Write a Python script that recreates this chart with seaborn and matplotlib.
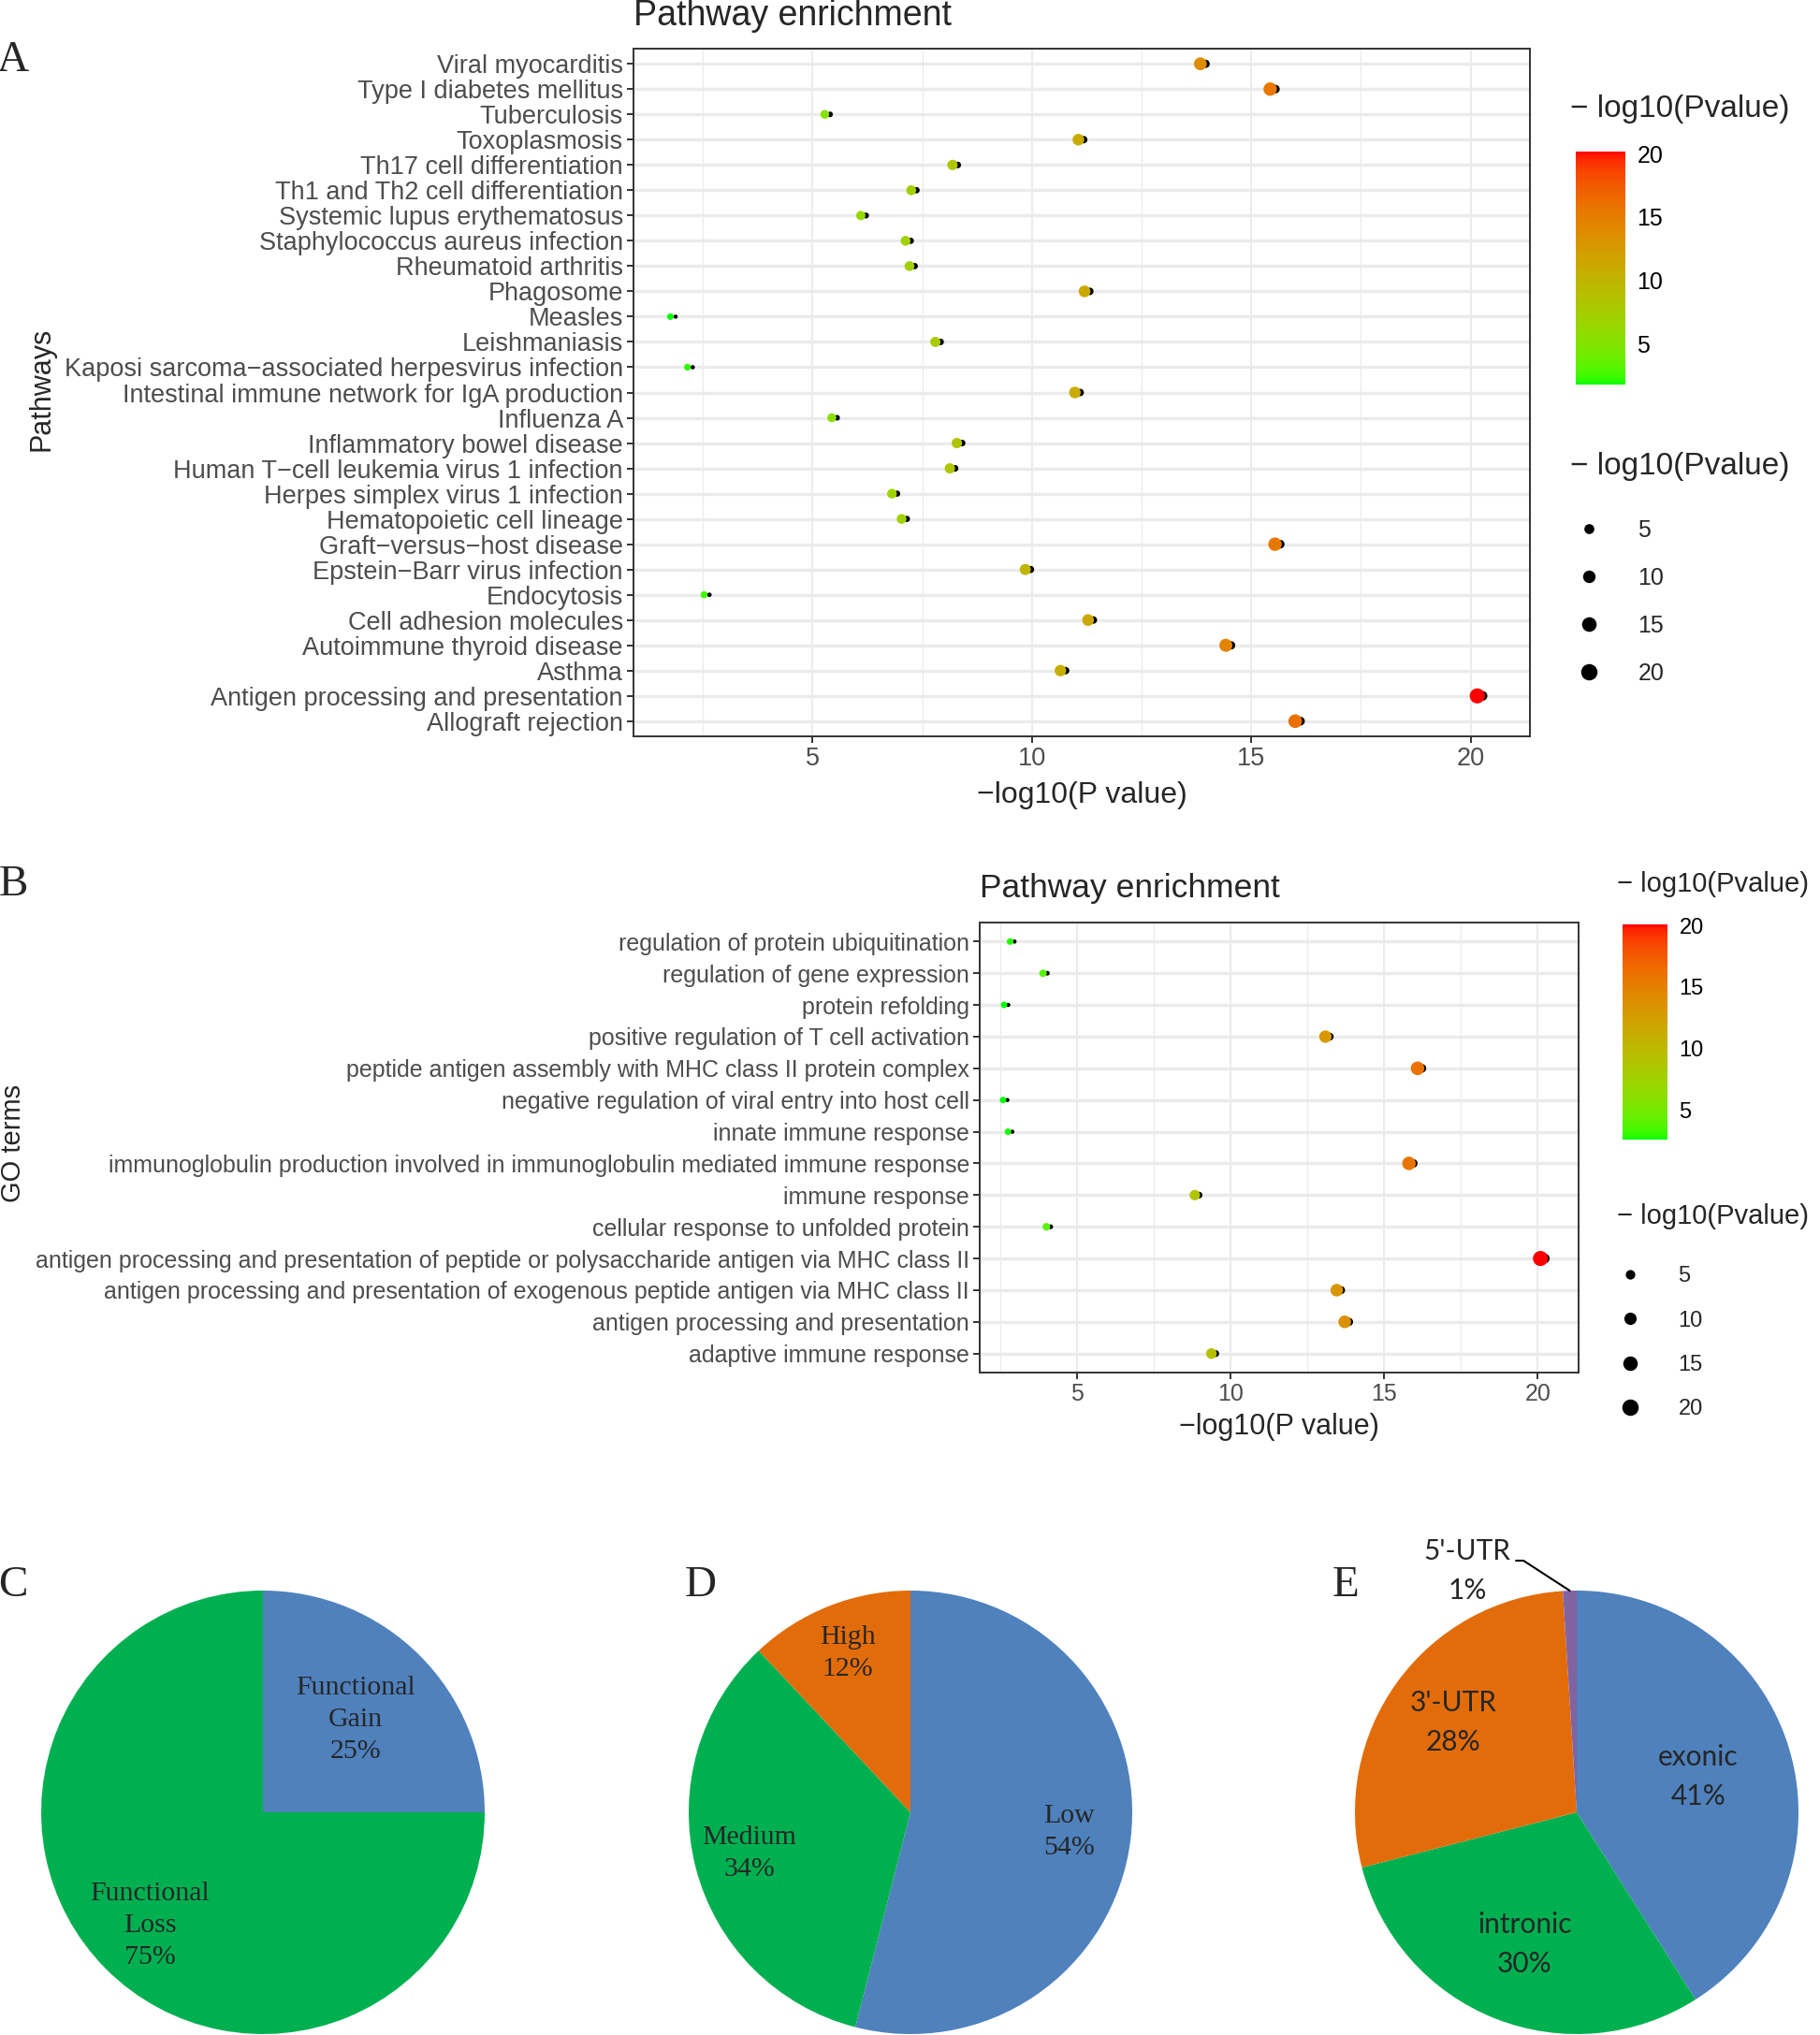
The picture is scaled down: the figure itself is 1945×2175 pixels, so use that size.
import numpy as np
import pandas as pd
import matplotlib
matplotlib.use("Agg")
import matplotlib.pyplot as plt
import seaborn as sns
from matplotlib.colors import ListedColormap, Normalize
from matplotlib.cm import ScalarMappable
from matplotlib.lines import Line2D

# ---- data ----
kegg_terms = ["Viral myocarditis", "Type I diabetes mellitus", "Tuberculosis", "Toxoplasmosis",
              "Th17 cell differentiation", "Th1 and Th2 cell differentiation",
              "Systemic lupus erythematosus", "Staphylococcus aureus infection",
              "Rheumatoid arthritis", "Phagosome", "Measles", "Leishmaniasis",
              "Kaposi sarcoma\u2212associated herpesvirus infection",
              "Intestinal immune network for IgA production", "Influenza A",
              "Inflammatory bowel disease", "Human T\u2212cell leukemia virus 1 infection",
              "Herpes simplex virus 1 infection", "Hematopoietic cell lineage",
              "Graft\u2212versus\u2212host disease", "Epstein\u2212Barr virus infection", "Endocytosis",
              "Cell adhesion molecules", "Autoimmune thyroid disease", "Asthma",
              "Antigen processing and presentation", "Allograft rejection"]
kegg_logp = [13.84, 15.43, 5.28, 11.06, 8.19, 7.25, 6.10, 7.12, 7.21, 11.20, 1.76, 7.80, 2.15,
             10.98, 5.44, 8.29, 8.13, 6.81, 7.03, 15.54, 9.85, 2.53, 11.28, 14.42, 10.65, 20.15, 16.00]

go_terms = ["regulation of protein ubiquitination", "regulation of gene expression",
            "protein refolding", "positive regulation of T cell activation",
            "peptide antigen assembly with MHC class II protein complex",
            "negative regulation of viral entry into host cell", "innate immune response",
            "immunoglobulin production involved in immunoglobulin mediated immune response",
            "immune response", "cellular response to unfolded protein",
            "antigen processing and presentation of peptide or polysaccharide antigen via MHC class II",
            "antigen processing and presentation of exogenous peptide antigen via MHC class II",
            "antigen processing and presentation", "adaptive immune response"]
go_logp = [2.83, 3.90, 2.63, 13.09, 16.09, 2.60, 2.76, 15.81, 8.84, 4.01, 20.09, 13.46, 13.72, 9.38]

x_ticks = [5, 10, 15, 20]
size_breaks = [5, 10, 15, 20]

func_labels = ["Functional\nGain", "Functional\nLoss"]
func_pct = [25, 75]
impact_labels = ["Low", "Medium", "High"]
impact_pct = [54, 34, 12]
region_labels = ["exonic", "intronic", "3'-UTR", "5'-UTR"]
region_pct = [41, 30, 28, 1]

pie_blue, pie_green, pie_orange, pie_purple = "#4F81BD", "#00B050", "#E36C0A", "#8064A2"

# ---- colour scale: green -> red interpolated in CIELAB (like ggplot) ----
M = np.array([[0.4124564, 0.3575761, 0.1804375],
              [0.2126729, 0.7151522, 0.0721750],
              [0.0193339, 0.1191920, 0.9503041]])
WP = np.array([0.95047, 1.0, 1.08883])


def to_lab(rgb):
    rgb = np.asarray(rgb, float)
    lin = np.where(rgb <= 0.04045, rgb / 12.92, ((rgb + 0.055) / 1.055) ** 2.4)
    t = (M @ lin) / WP
    f = np.where(t > (6 / 29) ** 3, np.cbrt(t), t / (3 * (6 / 29) ** 2) + 4 / 29)
    return np.array([116 * f[1] - 16, 500 * (f[0] - f[1]), 200 * (f[1] - f[2])])


def from_lab(lab):
    fy_ = (lab[0] + 16) / 116
    f = np.array([fy_ + lab[1] / 500, fy_, fy_ - lab[2] / 200])
    t = np.where(f > 6 / 29, f ** 3, 3 * (6 / 29) ** 2 * (f - 4 / 29))
    lin = np.linalg.solve(M, t * WP)
    lin = np.clip(lin, 0, 1)
    return np.where(lin <= 0.0031308, 12.92 * lin, 1.055 * lin ** (1 / 2.4) - 0.055).clip(0, 1)


lab_lo, lab_hi = to_lab([0, 1, 0]), to_lab([1, 0, 0])
cmap = ListedColormap([from_lab(lab_lo + t * (lab_hi - lab_lo)) for t in np.linspace(0, 1, 256)])

sns.set_style("white")
plt.rcParams["font.family"] = ["Liberation Sans", "DejaVu Sans"]

W, H = 1945, 2175
fig = plt.figure(figsize=(W / 100, H / 100), dpi=100)


def rect(x0, y0, x1, y1):
    return [x0 / W, 1 - y1 / H, (x1 - x0) / W, (y1 - y0) / H]


def fx(x):
    return x / W


def fy(y):
    return 1 - y / H


def dot_panel(box, terms, vals, xlim, tick_fs, nudge):
    ax = fig.add_axes(rect(*box))
    n = len(terms)
    df = pd.DataFrame({"term": terms, "val": vals, "pos": np.arange(n)[::-1]})
    norm = Normalize(min(vals), max(vals))
    # small black shadow layer, then coloured points on top
    sns.scatterplot(x=df["val"] + nudge, y=df["pos"], color="black", size=df["val"],
                    sizes=(10, 55), size_norm=norm, linewidth=0, legend=False, ax=ax, zorder=3)
    sns.scatterplot(data=df, x="val", y="pos", hue="val", palette=cmap, hue_norm=norm,
                    size="val", sizes=(25, 135), size_norm=norm, linewidth=0, legend=False,
                    ax=ax, zorder=4)
    ax.set_xlim(*xlim)
    ax.set_ylim(-0.6, n - 0.4)
    ax.set_yticks(range(n))
    ax.set_yticklabels(terms[::-1])
    ax.set_xticks(x_ticks)
    ax.set_xticks([2.5, 7.5, 12.5, 17.5], minor=True)
    ax.set_axisbelow(True)
    ax.grid(axis="y", which="major", color="#EBEBEB", lw=2.4)
    ax.grid(axis="x", which="major", color="#EBEBEB", lw=1.4)
    ax.grid(axis="x", which="minor", color="#EBEBEB", lw=0.9)
    ax.tick_params(axis="both", which="major", length=5, width=1.4, color="#333333",
                   labelcolor="#4D4D4D", labelsize=tick_fs, pad=3, left=True, bottom=True)
    ax.tick_params(which="minor", length=0)
    for s in ax.spines.values():
        s.set_color("#333333")
        s.set_linewidth(1.4)
    ax.set_xlabel("")
    ax.set_ylabel("")
    return ax, norm


def colour_bar(norm, box, fs):
    cax = fig.add_axes(rect(*box))
    cb = fig.colorbar(ScalarMappable(norm=norm, cmap=cmap), cax=cax, ticks=x_ticks)
    cb.outline.set_visible(False)
    cax.tick_params(direction="in", length=7, width=1.2, color="white", labelcolor="black",
                    labelsize=fs, left=True, right=True, pad=9)


def size_legend(ax, norm, left_px, top_px, fs, spacing, textpad):
    handles = [Line2D([], [], ls="", marker="o", color="black",
                      markersize=np.sqrt(25 + 110 * np.clip(norm(b), 0, 1))) for b in size_breaks]
    ax.legend(handles, [str(b) for b in size_breaks], loc="upper left",
              bbox_to_anchor=(fx(left_px), fy(top_px)), bbox_transform=fig.transFigure,
              frameon=False, fontsize=fs, labelspacing=spacing, handlelength=1.6,
              handletextpad=textpad, borderpad=0, borderaxespad=0)


# ---- panel A ----
axA, normA = dot_panel((677, 52, 1635, 787), kegg_terms, kegg_logp, (0.92, 21.35), 19.5, 0.12)
fig.text(fx(677), fy(17), "Pathway enrichment", fontsize=27, va="center", ha="left")
fig.text(fx(1156), fy(850), "\u2212log10(P value)", fontsize=23, va="center", ha="center")
fig.text(fx(44), fy(416), "Pathways", fontsize=22, va="center", ha="center", rotation=90)
colour_bar(normA, (1684, 162, 1737, 411), 18)
fig.text(fx(1678), fy(117), "\u2212 log10(Pvalue)", fontsize=24, va="center", ha="left")
fig.text(fx(1678), fy(499), "\u2212 log10(Pvalue)", fontsize=24, va="center", ha="left")
size_legend(axA, normA, 1678, 555, 18, 1.08, 1.3)

# ---- panel B ----
axB, normB = dot_panel((1047, 986, 1687, 1467), go_terms, go_logp, (1.84, 21.33), 18, 0.14)
fig.text(fx(1047), fy(950), "Pathway enrichment", fontsize=25.5, va="center", ha="left")
fig.text(fx(1367), fy(1525), "\u2212log10(P value)", fontsize=22, va="center", ha="center")
fig.text(fx(14), fy(1222), "GO terms", fontsize=21, va="center", ha="center", rotation=90)
colour_bar(normB, (1734, 988, 1782, 1218), 17)
fig.text(fx(1728), fy(945), "\u2212 log10(Pvalue)", fontsize=21, va="center", ha="left")
fig.text(fx(1728), fy(1300), "\u2212 log10(Pvalue)", fontsize=21, va="center", ha="left")
size_legend(axB, normB, 1723, 1353, 17, 1.08, 1.39)


# ---- pies ----
def pie_panel(cx, cy, r, values, labels, colors, dists, font, spacing):
    ax = fig.add_axes(rect(cx - r, cy - r, cx + r, cy + r))
    wedges, _ = ax.pie(values, colors=colors, startangle=90, counterclock=False,
                       wedgeprops=dict(linewidth=0))
    ax.set_xlim(-1, 1)
    ax.set_ylim(-1, 1)
    ax.set_aspect("equal")
    for w, lab, val, d in zip(wedges, labels, values, dists):
        if d is None:
            continue
        ang = np.deg2rad((w.theta1 + w.theta2) / 2)
        ax.text(d * np.cos(ang), d * np.sin(ang), f"{lab}\n{val}%", ha="center", va="center",
                linespacing=spacing, **font)
    return ax, wedges


serif = dict(family="Liberation Serif", fontsize=21.5)
calib = dict(family="Lato", fontsize=21.5)

pie_panel(281, 1937, 237, func_pct, func_labels, [pie_blue, pie_green], [0.59, 0.72], serif, 1.4)
pie_panel(973, 1937, 237, impact_pct, impact_labels, [pie_blue, pie_green, pie_orange],
          [0.72, 0.75, 0.77], serif, 1.4)
axE, wedE = pie_panel(1685, 1937, 237, region_pct, region_labels,
                      [pie_blue, pie_green, pie_orange, pie_purple], [0.57, 0.64, 0.69, None],
                      calib, 1.6)
w5 = wedE[3]
a5 = np.deg2rad((w5.theta1 + w5.theta2) / 2)
axE.text(-0.494, 1.089, f"{region_labels[3]}\n{region_pct[3]}%", ha="center", va="center",
         linespacing=1.6, clip_on=False, **calib)
axE.plot([-0.274, -0.24, np.cos(a5)], [1.135, 1.135, np.sin(a5)], color="black", lw=1.5,
         clip_on=False)

# ---- panel letters ----
for lab, x, y in [("A", 14, 65), ("B", 14, 946), ("C", 14, 1695), ("D", 749, 1695), ("E", 1438, 1695)]:
    fig.text(fx(x), fy(y), lab, fontsize=34, family="Liberation Serif", ha="center", va="center")

fig.savefig("out.png", dpi=100)
